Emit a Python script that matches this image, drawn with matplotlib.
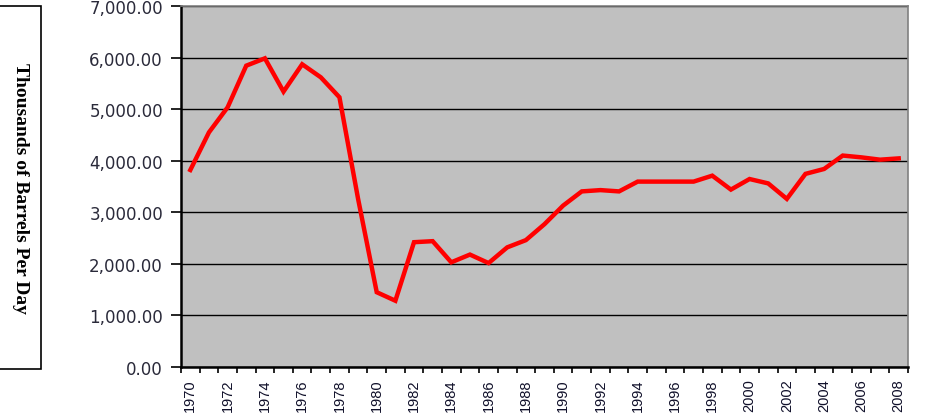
"""Oil production, thousands of barrels per day, 1970-2008."""

import matplotlib

matplotlib.use("Agg")
import matplotlib.pyplot as plt
from matplotlib.patches import Rectangle
from matplotlib.ticker import FuncFormatter, MultipleLocator

YEARS = list(range(1970, 2009))
PRODUCTION = [
    3820, 4550, 5035, 5843, 5985, 5340, 5870, 5617, 5230, 3260,
    1450, 1285, 2420, 2440, 2030, 2180, 2015, 2320, 2460, 2770,
    3130, 3405, 3430, 3405, 3595, 3595, 3595, 3595, 3710, 3440,
    3645, 3560, 3260, 3745, 3840, 4100, 4065, 4020, 4045,
]
Y_LABEL = "Thousands of Barrels Per Day"

W, H = 933, 414

fig = plt.figure(figsize=(W / 100, H / 100), dpi=100)
ax = fig.add_axes([181 / W, 1 - 368 / H, (908 - 181) / W, (368 - 7) / H])
ax.set_facecolor("#c0c0c0")

x = list(range(len(YEARS)))
ax.plot(x, PRODUCTION, color="#ff0000", linewidth=3.2, solid_joinstyle="miter", zorder=3)

ax.set_xlim(-0.5, len(YEARS) - 0.5)
ax.set_ylim(0, 7000)

# y axis: gridlines every 1000, labels with two decimals
ax.yaxis.set_major_locator(MultipleLocator(1000))
ax.yaxis.set_major_formatter(FuncFormatter(lambda v, _: f"{v:,.2f}"))
ax.grid(axis="y", color="black", linewidth=1.0, zorder=1)
ax.tick_params(axis="y", direction="out", length=7, width=1.2, pad=6,
               labelsize=12, labelcolor="#2a2a3a")
for lab in ax.get_yticklabels():
    lab.set_family("DejaVu Sans")

# x axis: tick marks between categories, labels every second year
ax.set_xticks(x[::2])
ax.set_xticklabels([str(y) for y in YEARS[::2]], rotation=90,
                   family="Liberation Sans", fontsize=10.5, color="#10102a")
ax.set_xticks([i - 0.5 for i in range(len(YEARS) + 1)], minor=True)
ax.tick_params(axis="x", which="major", length=0, pad=8)
ax.tick_params(axis="x", which="minor", direction="out", length=4, width=1.2)

ax.spines["left"].set_linewidth(1.8)
ax.spines["bottom"].set_linewidth(1.8)
ax.spines["top"].set_color("#808080")
ax.spines["right"].set_color("#808080")
ax.spines["top"].set_linewidth(1.2)
ax.spines["right"].set_linewidth(1.2)

# boxed y label on the left
fig.patches.append(Rectangle((-0.01, 1 - 370 / H), 41 / W + 0.01, (370 - 7) / H,
                             transform=fig.transFigure, fill=False,
                             edgecolor="black", linewidth=1.2))
fig.text(20 / W, 1 - 188 / H, Y_LABEL, rotation=270, ha="center", va="center",
         family="Liberation Serif", fontweight="bold", fontsize=14)

fig.savefig("out.png", dpi=100)
plt.close(fig)
